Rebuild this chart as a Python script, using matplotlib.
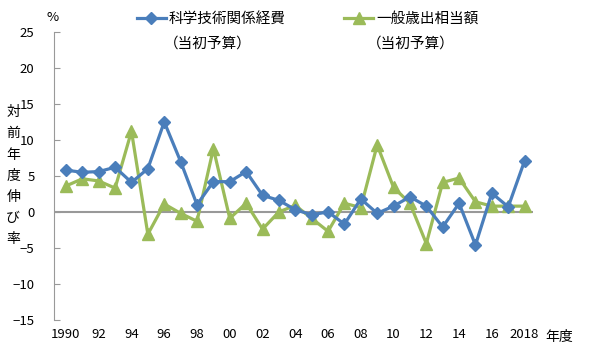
import matplotlib.pyplot as plt

plt.rcParams['font.family'] = ['Noto Sans CJK JP', 'DejaVu Sans']

years = list(range(1990, 2019))
science = [5.8, 5.5, 5.6, 6.2, 4.1, 6.0, 12.5, 7.0, 1.0, 4.2, 4.2, 5.6, 2.3, 1.6, 0.3,
           -0.4, 0.0, -1.7, 1.8, -0.2, 0.8, 2.1, 0.8, -2.1, 1.2, -4.6, 2.6, 0.7, 7.1]
general = [3.6, 4.6, 4.3, 3.3, 11.2, -3.1, 1.1, -0.2, -1.3, 8.8, -0.9, 1.2, -2.4, 0.0, 0.9,
           -0.9, -2.7, 1.2, 0.6, 9.3, 3.4, 1.2, -4.4, 4.1, 4.7, 1.4, 0.8, 0.8, 0.8]
names = ['科学技術関係経費', '一般歳出相当額']
xticks = list(range(1990, 2019, 2))
xlabels = ['1990'] + ['%02d' % (y % 100) for y in xticks[1:-1]] + ['2018']
yticks = [-15, -10, -5, 0, 5, 10, 15, 20, 25]

blue = '#4a7ebb'
green = '#9bbb59'

fig = plt.figure(figsize=(6, 3.55), dpi=100)
ax = fig.add_axes([0.09, 0.099, 0.798, 0.811])

ax.axhline(0, color='#999999', lw=1.5, zorder=1)
ax.plot(years, science, color=blue, lw=2.3, marker='D', ms=6.5, label=names[0], zorder=3)
ax.plot(years, general, color=green, lw=2.3, marker='^', ms=8.5, label=names[1], zorder=2)

ax.set_xlim(1989.27, 2018.5)
ax.set_ylim(-15, 25)
ax.set_yticks(yticks)
ax.set_yticklabels([str(v).replace('-', '−') for v in yticks])
ax.set_xticks(xticks)
ax.set_xticklabels(xlabels)
ax.tick_params(axis='x', length=0, pad=6, labelsize=9.5)
ax.tick_params(axis='y', direction='in', length=4, color='#999999', pad=14, labelsize=9.5)
for s in ['top', 'right', 'bottom']:
    ax.spines[s].set_visible(False)
ax.spines['left'].set_color('#999999')

fig.text(0.932, 0.052, '年度', fontsize=10, ha='center', va='center')
fig.text(0.087, 0.95, '%', fontsize=9.5, ha='center', va='center')
fig.text(0.022, 0.505, '\n'.join('対前年度伸び率'), fontsize=10, ha='center', va='center',
         linespacing=1.65)

leg = ax.legend(loc='upper left', bbox_to_anchor=(0.145, 1.116), ncol=2, frameon=False,
                fontsize=10.5, handlelength=2.0, handletextpad=0.2, columnspacing=4.0)
fig.text(0.273, 0.878, '（当初予算）', fontsize=10.5, ha='left', va='center')
fig.text(0.612, 0.878, '（当初予算）', fontsize=10.5, ha='left', va='center')

fig.savefig('out.png', dpi=100)
